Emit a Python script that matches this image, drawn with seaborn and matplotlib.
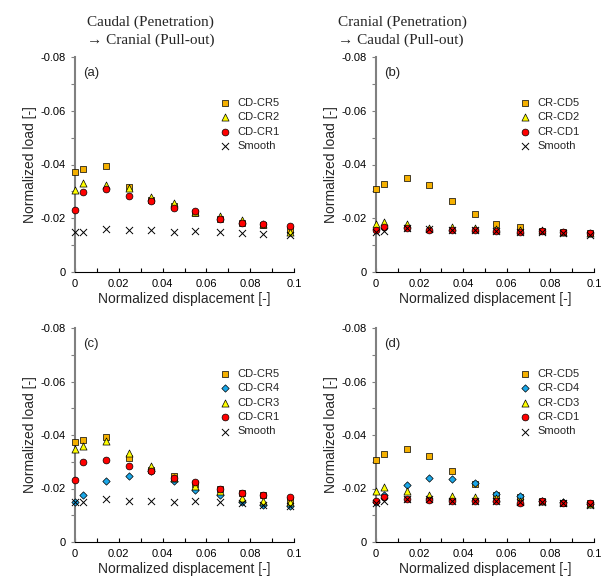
import matplotlib
matplotlib.use("Agg")
import matplotlib.pyplot as plt
import seaborn as sns
from matplotlib.ticker import MultipleLocator, FuncFormatter

sns.set_theme(style="white")
plt.rcParams['font.family'] = ['Liberation Sans', 'DejaVu Sans']
plt.rcParams['axes.unicode_minus'] = False

# ---------------- data ----------------
disp = [0.0, 0.0035, 0.0141, 0.0245, 0.0349, 0.0453, 0.0550, 0.0660, 0.0761, 0.0858, 0.0980]

# Caudal -> Cranial
cd_cr5 = [-0.0373, -0.0383, -0.0394, -0.0315, -0.0269, -0.0245, -0.0218, -0.0199, -0.0184, -0.0174, -0.0157]
cd_cr4 = [-0.0148, -0.0174, -0.0229, -0.0245, -0.0265, -0.0227, -0.0196, -0.0177, -0.0148, -0.0140, -0.0133]
cd_cr3 = [-0.0348, -0.0360, -0.0376, -0.0333, -0.0283, -0.0239, -0.0208, -0.0189, -0.0164, -0.0152, -0.0148]
cd_cr2 = [-0.0305, -0.0330, -0.0323, -0.0311, -0.0280, -0.0257, -0.0224, -0.0209, -0.0193, -0.0178, -0.0149]
cd_cr1 = [-0.0230, -0.0299, -0.0308, -0.0284, -0.0264, -0.0240, -0.0226, -0.0199, -0.0184, -0.0177, -0.0170]
smooth_a = [-0.0149, -0.0149, -0.0159, -0.0155, -0.0155, -0.0149, -0.0153, -0.0148, -0.0146, -0.0140, -0.0136]

# Cranial -> Caudal
cr_cd5 = [-0.0308, -0.0328, -0.0348, -0.0323, -0.0266, -0.0215, -0.0177, -0.0168, -0.0152, -0.0147, -0.0144]
cr_cd4 = [-0.0150, -0.0177, -0.0212, -0.0239, -0.0236, -0.0221, -0.0179, -0.0171, -0.0155, -0.0148, -0.0143]
cr_cd3 = [-0.0192, -0.0204, -0.0192, -0.0174, -0.0173, -0.0167, -0.0164, -0.0152, -0.0152, -0.0148, -0.0142]
cr_cd2 = [-0.0178, -0.0187, -0.0178, -0.0164, -0.0168, -0.0162, -0.0159, -0.0155, -0.0155, -0.0149, -0.0146]
cr_cd1 = [-0.0155, -0.0168, -0.0162, -0.0158, -0.0155, -0.0155, -0.0153, -0.0147, -0.0152, -0.0147, -0.0146]
smooth_b = [-0.0147, -0.0152, -0.0162, -0.0159, -0.0155, -0.0155, -0.0153, -0.0148, -0.0149, -0.0146, -0.0139]

titles = [["Caudal (Penetration)", "\u2192 Cranial (Pull-out)"],
          ["Cranial (Penetration)", "\u2192 Caudal (Pull-out)"]]
x_ticks = [0, 0.02, 0.04, 0.06, 0.08, 0.1]
y_ticks = [-0.08, -0.06, -0.04, -0.02, 0]

ORANGE = "#F5B000"
YELLOW = "#FFFF00"
RED = "#FF0000"
BLUE = "#1AA7E8"

STYLE = {
    5: ("s", ORANGE, 22),
    4: ("D", BLUE, 14),
    3: ("^", YELLOW, 26),
    2: ("^", YELLOW, 26),
    1: ("o", RED, 24),
}

panels = [
    ("(a)", [("CD-CR5", cd_cr5, 5), ("CD-CR2", cd_cr2, 2), ("CD-CR1", cd_cr1, 1)], smooth_a),
    ("(b)", [("CR-CD5", cr_cd5, 5), ("CR-CD2", cr_cd2, 2), ("CR-CD1", cr_cd1, 1)], smooth_b),
    ("(c)", [("CD-CR5", cd_cr5, 5), ("CD-CR4", cd_cr4, 4), ("CD-CR3", cd_cr3, 3), ("CD-CR1", cd_cr1, 1)], smooth_a),
    ("(d)", [("CR-CD5", cr_cd5, 5), ("CR-CD4", cr_cd4, 4), ("CR-CD3", cr_cd3, 3), ("CR-CD1", cr_cd1, 1)], smooth_b),
]

W, H = 606, 587
fig = plt.figure(figsize=(W / 100, H / 100), dpi=100)
fig.patch.set_facecolor("white")

# axes boxes in pixels: left, right, top, bottom
boxes = [(75, 294, 57, 272), (376, 594, 57, 272), (75, 294, 328, 542), (376, 594, 328, 542)]


def fmt(v, pos):
    if abs(v) < 1e-12:
        return "0"
    return f"{v:g}"


for (plabel, series, smooth), (l, r, t, b) in zip(panels, boxes):
    ax = fig.add_axes([l / W, 1 - b / H, (r - l) / W, (b - t) / H])
    ax.set_facecolor("white")
    for name, vals, key in series:
        m, c, s = STYLE[key]
        sns.scatterplot(x=disp, y=vals, ax=ax, marker=m, color=c, edgecolor="black",
                        linewidth=0.5, s=s, label=name, zorder=3, clip_on=False)
    sns.scatterplot(x=disp, y=smooth, ax=ax, marker="x", color="black",
                    linewidth=0.7, s=26, label="Smooth", zorder=4, clip_on=False)

    ax.set_xlim(0, 0.1)
    ax.set_ylim(0, -0.08)
    ax.xaxis.set_major_locator(MultipleLocator(0.02))
    ax.xaxis.set_minor_locator(MultipleLocator(0.01))
    ax.yaxis.set_major_locator(MultipleLocator(0.02))
    ax.yaxis.set_minor_locator(MultipleLocator(0.01))
    ax.xaxis.set_major_formatter(FuncFormatter(fmt))
    ax.yaxis.set_major_formatter(FuncFormatter(fmt))

    for side in ("top", "right"):
        ax.spines[side].set_visible(False)
    ax.spines["left"].set_color("#808080")
    ax.spines["left"].set_linewidth(1.5)
    ax.spines["left"].set_zorder(2)
    ax.spines["bottom"].set_color("black")
    ax.spines["bottom"].set_linewidth(0.8)

    ax.tick_params(axis="y", which="both", direction="out", length=3, width=0.8,
                   color="#808080", left=True, labelsize=8, pad=4, labelcolor="black")
    ax.tick_params(axis="x", which="both", direction="in", length=3, width=0.8,
                   color="black", bottom=True, labelsize=8, pad=5, labelcolor="black")

    ax.set_xlabel("Normalized displacement [-]", fontsize=10, labelpad=2)
    ax.set_ylabel("Normalized load [-]", fontsize=10, labelpad=2)

    ax.text(0.037, 0.926, plabel, transform=ax.transAxes, fontsize=9.5,
            va="center", ha="left")

    ax.legend(loc="upper left", bbox_to_anchor=(0.66, 0.81), frameon=False,
              fontsize=8, handlelength=1, handletextpad=0.6, labelspacing=0.4,
              borderpad=0, borderaxespad=0)

# column titles
for (l1, l2), x0 in zip(titles, [87, 338]):
    fig.text(x0 / W, 1 - 22 / H, l1, fontsize=11, ha="left", va="center",
             family=["Liberation Serif", "DejaVu Serif"])
    fig.text(x0 / W, 1 - 40 / H, l2, fontsize=11, ha="left", va="center",
             family=["Liberation Serif", "DejaVu Serif"])

fig.savefig("out.png", dpi=100, facecolor="white")
